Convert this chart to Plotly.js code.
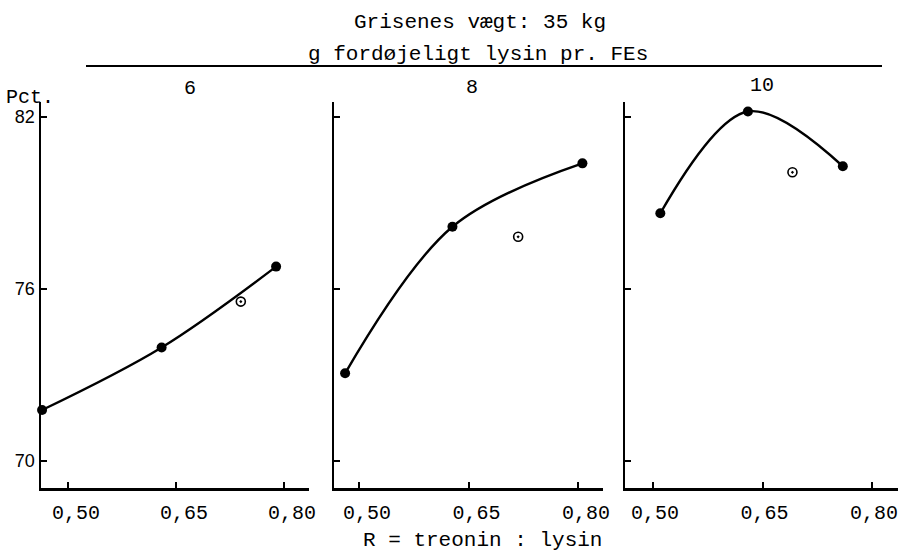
<!DOCTYPE html>
<html>
<head>
<meta charset="utf-8">
<script src="https://cdn.plot.ly/plotly-3.0.1.min.js"></script>
<style>html,body{margin:0;padding:0;background:#fff;}#chart{width:902px;height:554px;}</style>
</head>
<body>
<div id="chart"></div>
<script>
// Data
const panelLabels = ["6", "8", "10"];            // g fordøjeligt lysin pr. FEs
const xTickVals = [0.50, 0.65, 0.80];
const xTickText = ["0,50", "0,65", "0,80"];
const yTickVals = [70, 76, 82];
const yTickText = ["70", "76", "82"];

// filled points (connected by curve)
const lys6_x = [0.464, 0.630, 0.789];
const lys6_y = [71.78, 73.96, 76.78];
const lys8_x = [0.481, 0.628, 0.806];
const lys8_y = [73.06, 78.17, 80.38];
const lys10_x = [0.510, 0.630, 0.760];
const lys10_y = [78.64, 82.19, 80.28];

// open points
const open6_x = [0.740];
const open6_y = [75.56];
const open8_x = [0.718];
const open8_y = [77.82];
const open10_x = [0.691];
const open10_y = [80.07];

const MONO = "Liberation Mono, Courier New, monospace";
const SANS = "Liberation Sans, Arial, sans-serif";
const W = 902, H = 554;
const px = v => v / W;
const py = v => 1 - v / H;

const filled = [[lys6_x, lys6_y], [lys8_x, lys8_y], [lys10_x, lys10_y]];
const opens = [[open6_x, open6_y], [open8_x, open8_y], [open10_x, open10_y]];
const suffix = ["", "2", "3"];

const traces = [];
for (let i = 0; i < 3; i++) {
  traces.push({
    x: filled[i][0], y: filled[i][1], xaxis: "x" + suffix[i], yaxis: "y" + suffix[i],
    type: "scatter", mode: "lines+markers",
    line: {color: "#000", width: 2.4, shape: "spline", smoothing: 1},
    marker: {color: "#000", size: 10, symbol: "circle"},
    cliponaxis: false, showlegend: false, hoverinfo: "skip"
  });
  traces.push({
    x: opens[i][0], y: opens[i][1], xaxis: "x" + suffix[i], yaxis: "y" + suffix[i],
    type: "scatter", mode: "markers",
    marker: {color: "#000", size: 9, symbol: "circle-open-dot", line: {color: "#000", width: 1.6}},
    cliponaxis: false, showlegend: false, hoverinfo: "skip"
  });
}

const xDomains = [[px(41), px(309)], [px(334), px(603)], [px(625), px(898)]];
const xRanges = [[0.4625, 0.8347], [0.4658, 0.8342], [0.4616, 0.8356]];
const labelShift = [8, 8, 2];
const yDomain = [py(488), py(102)];
const yRange = [69.06, 82.52];

const layout = {
  width: W, height: H,
  margin: {l: 0, r: 0, t: 0, b: 0},
  paper_bgcolor: "#fff", plot_bgcolor: "#fff",
  showlegend: false,
  font: {family: MONO, color: "#000", size: 20},
  shapes: [
    {type: "line", xref: "paper", yref: "paper", x0: px(86), x1: px(882), y0: py(66), y1: py(66),
     line: {color: "#000", width: 2}}
  ],
  annotations: [
    {text: "Grisenes vægt: 35 kg", xref: "paper", yref: "paper", x: px(480), y: py(22),
     showarrow: false, xanchor: "center", yanchor: "middle", font: {family: MONO, size: 21, color: "#000"}},
    {text: "g fordøjeligt lysin pr. FEs", xref: "paper", yref: "paper", x: px(478), y: py(55),
     showarrow: false, xanchor: "center", yanchor: "middle", font: {family: MONO, size: 21, color: "#000"}},
    {text: "Pct.", xref: "paper", yref: "paper", x: px(4), y: py(97),
     showarrow: false, xanchor: "left", yanchor: "middle", font: {family: MONO, size: 20, color: "#000"}},
    {text: panelLabels[0], xref: "paper", yref: "paper", x: px(190), y: py(88),
     showarrow: false, xanchor: "center", yanchor: "middle", font: {family: MONO, size: 20, color: "#000"}},
    {text: panelLabels[1], xref: "paper", yref: "paper", x: px(472), y: py(87),
     showarrow: false, xanchor: "center", yanchor: "middle", font: {family: MONO, size: 20, color: "#000"}},
    {text: panelLabels[2], xref: "paper", yref: "paper", x: px(762), y: py(86),
     showarrow: false, xanchor: "center", yanchor: "middle", font: {family: MONO, size: 20, color: "#000"}},
    {text: "R = treonin : lysin", xref: "paper", yref: "paper", x: px(482), y: py(540),
     showarrow: false, xanchor: "center", yanchor: "middle", font: {family: MONO, size: 21, color: "#000"}}
  ]
};

for (let i = 0; i < 3; i++) {
  const s = suffix[i];
  layout["xaxis" + s] = {
    domain: xDomains[i], range: xRanges[i], anchor: "y" + s,
    showline: true, linecolor: "#000", linewidth: 2.5, mirror: false,
    showgrid: false, zeroline: false,
    ticks: "inside", ticklen: 6, tickwidth: 2, tickcolor: "#000",
    tickmode: "array", tickvals: xTickVals, ticktext: xTickText,
    ticklabelshift: labelShift[i], ticklabelstandoff: 4, ticklabeloverflow: "allow",
    tickfont: {family: MONO, size: 20, color: "#000"},
    fixedrange: true
  };
  layout["yaxis" + s] = {
    domain: yDomain, range: yRange, anchor: "x" + s,
    showline: true, linecolor: "#000", linewidth: 2.5, mirror: false,
    showgrid: false, zeroline: false,
    ticks: "inside", ticklen: 6, tickwidth: 2, tickcolor: "#000",
    tickmode: "array", tickvals: yTickVals, ticktext: yTickText,
    showticklabels: i === 0, ticklabeloverflow: "allow",
    tickfont: {family: SANS, size: 18, color: "#000"},
    fixedrange: true
  };
}

Plotly.newPlot("chart", traces, layout, {displayModeBar: false, staticPlot: true});
</script>
</body>
</html>
